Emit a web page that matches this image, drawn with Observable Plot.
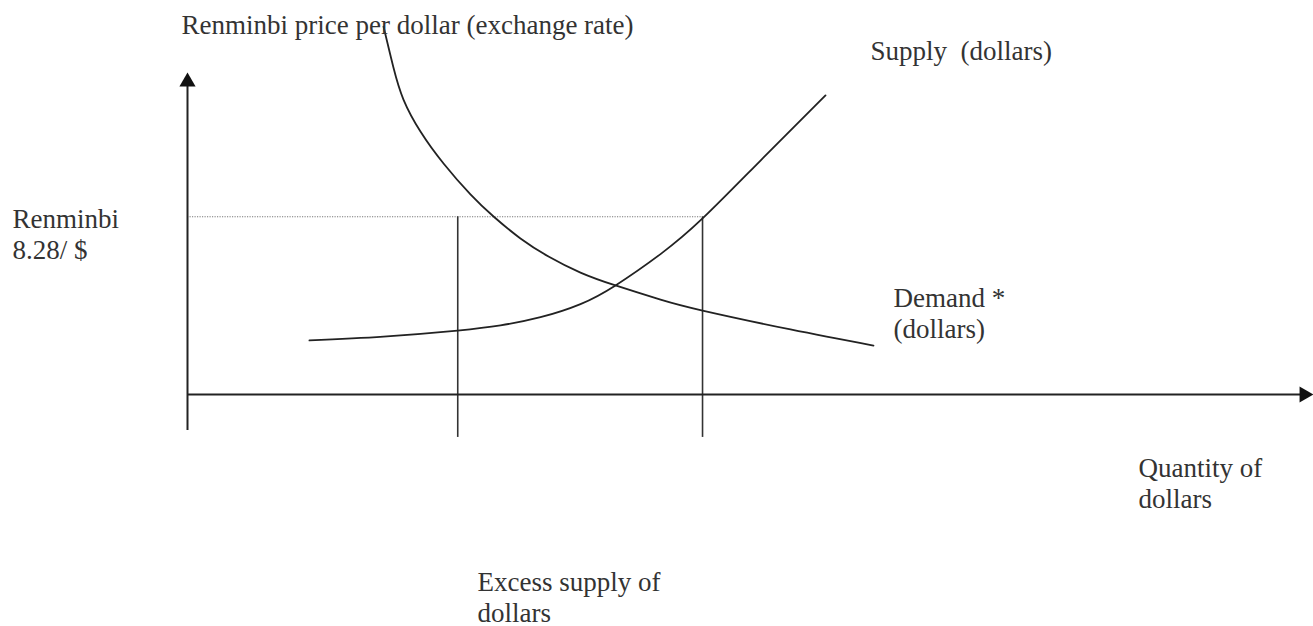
<!DOCTYPE html>
<html>
<head>
<meta charset="utf-8">
<script src="https://cdn.jsdelivr.net/npm/d3@7"></script>
<script src="https://cdn.jsdelivr.net/npm/@observablehq/plot@0.6"></script>
<style>
  html, body { margin: 0; padding: 0; background: #fff; }
  svg { display: block; overflow: visible; }
</style>
</head>
<body>
<div id="chart"></div>
<script>
// Quantity of dollars (x) and renminbi per dollar (y)
const supplyQ = [10.83, 17.41, 23.98, 27.80, 31.35, 34.90, 38.01, 42.01, 45.74, 50.89, 56.66];
const supplyP = [2.52, 2.70, 2.98, 3.22, 3.60, 4.21, 5.08, 6.54, 8.20, 10.90, 13.93];
const demandQ = [17.41, 18.29, 19.18, 20.69, 22.74, 25.13, 27.18, 29.57, 32.06, 34.90, 38.01, 42.01, 45.74, 53.55, 60.92];
const demandP = [17.14, 15.23, 13.74, 12.25, 10.76, 9.32, 8.29, 7.27, 6.43, 5.68, 5.08, 4.42, 3.91, 3.03, 2.28];
const pegRate = 8.28;                 // renminbi per dollar
const markedQuantities = [24, 45.74]; // quantities marked at the peg
const axisQMax = 100;
const axisPMax = 15;

// Labels (text) with their anchor in data units (baseline of last line, left edge)
const labelTexts = [
  "Renminbi price per dollar (exchange rate)",
  "Supply\u00a0 (dollars)",
  "Renminbi\n8.28/ $",
  "Demand *\n(dollars)",
  "Quantity of\ndollars",
  "Excess supply of\ndollars"
];
const labelQ = [-0.53, 60.66, -15.54, 62.70, 84.46, 25.75];
const labelP = [16.81, 15.56, 6.33, 2.65, -5.31, -10.62];

const supply = supplyQ.map((q, i) => ({q, p: supplyP[i]}));
const demand = demandQ.map((q, i) => ({q, p: demandP[i]}));
const labels = labelTexts.map((t, i) => ({t, q: labelQ[i], p: labelP[i]}));

const ink = "#222";
const font = "Liberation Serif, Times New Roman, serif";

const chart = Plot.plot({
  width: 1313,
  height: 626,
  marginLeft: 187,
  marginRight: 0,
  marginTop: 72,
  marginBottom: 232,
  x: {domain: [0, axisQMax], axis: null},
  y: {domain: [0, axisPMax], axis: null},
  style: {background: "#fff", overflow: "visible"},
  marks: [
    // dotted peg line
    Plot.ruleY([pegRate], {x1: 0, x2: markedQuantities[1], stroke: "#777", strokeWidth: 1, strokeDasharray: "1.2,1.3"}),
    // vertical quantity lines
    Plot.ruleX(markedQuantities, {y1: -2.0, y2: pegRate, stroke: "#333", strokeWidth: 1.6}),
    // axes
    Plot.ruleX([0], {y1: -1.68, y2: axisPMax - 0.3, stroke: ink, strokeWidth: 2}),
    Plot.ruleY([0], {x1: 0, x2: axisQMax - 0.5, stroke: ink, strokeWidth: 2}),
    Plot.dot([{q: 0, p: axisPMax}], {x: "q", y: "p", symbol: "triangle", r: 6, fill: "#111", stroke: "none", dy: 9.3}),
    Plot.dot([{q: axisQMax, p: 0}], {x: "q", y: "p", symbol: "triangle", r: 6, fill: "#111", stroke: "none", rotate: 90, dx: -9.3}),
    // curves
    Plot.line(supply, {x: "q", y: "p", curve: "natural", stroke: ink, strokeWidth: 1.8}),
    Plot.line(demand, {x: "q", y: "p", curve: "natural", stroke: ink, strokeWidth: 1.8}),
    // labels
    Plot.text(labels, {
      x: "q", y: "p", text: "t",
      textAnchor: "start", lineAnchor: "bottom", lineHeight: 1.15,
      fontSize: 27, fontFamily: font, fill: "#333"
    })
  ]
});
document.getElementById("chart").appendChild(chart);
</script>
</body>
</html>
